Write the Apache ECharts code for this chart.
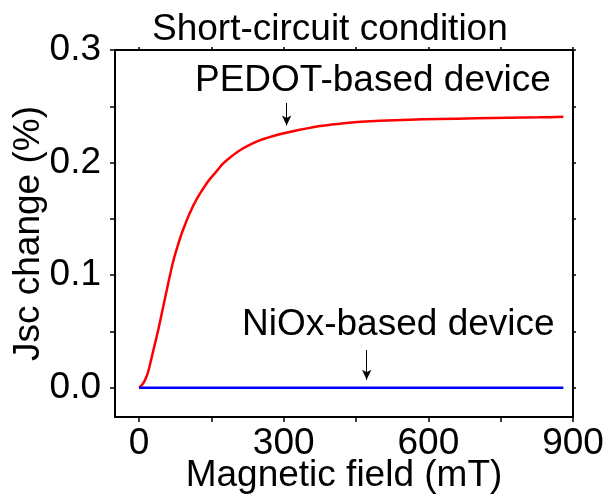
<!DOCTYPE html>
<html>
<head>
<meta charset="utf-8">
<script src="https://cdn.jsdelivr.net/npm/echarts@6/dist/echarts.min.js"></script>
<style>
    html, body { margin: 0; padding: 0; background: #fff; }
    #main { width: 608px; height: 496px; }
</style>
</head>
<body>
<div id="main"></div>
<script>
// magnetic field (mT) and Jsc change (%)
var fieldPedot = [0, 5, 10, 15, 20, 25, 30, 40, 50, 60, 70, 80, 90, 105, 120, 140, 160, 175, 190, 210, 240, 280, 310, 375, 420, 460, 500, 560, 620, 700, 830, 880];
var jscPedot = [0, 0.002, 0.005, 0.0095, 0.016, 0.025, 0.034, 0.052, 0.072, 0.092, 0.111, 0.126, 0.139, 0.155, 0.168, 0.1815, 0.192, 0.1995, 0.205, 0.2112, 0.218, 0.2238, 0.227, 0.2325, 0.2347, 0.2362, 0.2372, 0.2381, 0.2387, 0.2393, 0.2402, 0.2406];
var fieldNiox = [0, 200, 400, 600, 880];
var jscNiox = [0, 0, 0, 0, 0];

var xLabels = [0, 300, 600, 900];
var xTicks = [0, 150, 300, 450, 600, 750, 900];
var yLabels = [0, 0.1, 0.2, 0.3];
var yTicks = [0, 0.05, 0.1, 0.15, 0.2, 0.25, 0.3];

function pairs(xs, ys) {
    var out = [];
    for (var i = 0; i < xs.length; i++) out.push([xs[i], ys[i]]);
    return out;
}

var font = "'Liberation Sans', Arial, sans-serif";

var chart = echarts.init(document.getElementById('main'));

var axisLine = { show: true, onZero: false, lineStyle: { color: '#000', width: 2 } };

var option = {
    animation: false,
    title: {
        text: 'Short-circuit condition',
        left: 147,
        top: 6,
        textStyle: { fontFamily: font, fontSize: 37, fontWeight: 'normal', color: '#000' }
    },
    grid: { left: 115, right: 35, top: 50, bottom: 79, containLabel: false, outerBoundsMode: 'none' },
    xAxis: [
        {
            type: 'value',
            position: 'bottom',
            min: -50,
            max: 900,
            name: 'Magnetic field (mT)',
            nameLocation: 'middle',
            nameGap: 40,
            nameMoveOverlap: false,
            nameTextStyle: { fontFamily: font, fontSize: 37, color: '#000', verticalAlign: 'top' },
            axisLine: axisLine,
            axisTick: { show: true, inside: false, length: 5, customValues: xTicks, lineStyle: { color: '#000', width: 1.5 } },
            axisLabel: { customValues: xLabels, fontFamily: font, fontSize: 37, color: '#000', margin: 8 },
            splitLine: { show: false }
        },
        {
            type: 'value',
            position: 'top',
            min: -50,
            max: 900,
            axisLine: axisLine,
            axisTick: { show: true, inside: false, length: 3, customValues: xTicks, lineStyle: { color: '#000', width: 1.5 } },
            axisLabel: { show: false },
            splitLine: { show: false }
        }
    ],
    yAxis: [
        {
            type: 'value',
            position: 'left',
            min: -0.026,
            max: 0.3,
            name: 'Jsc change (%)',
            nameLocation: 'middle',
            nameGap: 68,
            nameMoveOverlap: false,
            nameTextStyle: { fontFamily: font, fontSize: 37, color: '#000' },
            axisLine: axisLine,
            axisTick: { show: true, inside: false, length: 5, customValues: yTicks, lineStyle: { color: '#000', width: 1.5 } },
            axisLabel: {
                customValues: yLabels,
                fontFamily: font, fontSize: 37, color: '#000', margin: 14,
                formatter: function (v) { return v.toFixed(1); }
            },
            splitLine: { show: false }
        },
        {
            type: 'value',
            position: 'right',
            min: -0.026,
            max: 0.3,
            axisLine: axisLine,
            axisTick: { show: true, inside: false, length: 3, customValues: yTicks, lineStyle: { color: '#000', width: 1.5 } },
            axisLabel: { show: false },
            splitLine: { show: false }
        }
    ],
    graphic: [
        {
            type: 'text', left: 195, top: 62,
            style: { text: 'PEDOT-based device', font: '37px ' + font, fill: '#000' }
        },
        {
            type: 'text', left: 242, top: 306,
            style: { text: 'NiOx-based device', font: '37px ' + font, fill: '#000' }
        }
    ],
    series: [
        {
            name: 'PEDOT',
            type: 'line',
            data: pairs(fieldPedot, jscPedot),
            showSymbol: false,
            smooth: 0.3,
            lineStyle: { color: '#ff0000', width: 2.5 },
            markLine: {
                silent: true,
                symbol: ['none', 'arrow'],
                symbolSize: [7, 10],
                label: { show: false },
                lineStyle: { color: '#000', width: 1, type: 'solid' },
                data: [[{ coord: [306, 0.253] }, { coord: [306, 0.233] }]]
            }
        },
        {
            name: 'NiOx',
            type: 'line',
            data: pairs(fieldNiox, jscNiox),
            showSymbol: false,
            lineStyle: { color: '#0000ff', width: 2.5 },
            markLine: {
                silent: true,
                symbol: ['none', 'arrow'],
                symbolSize: [7, 10],
                label: { show: false },
                lineStyle: { color: '#000', width: 1, type: 'solid' },
                data: [[{ coord: [472, 0.0335] }, { coord: [472, 0.007] }]]
            }
        }
    ]
};

option && chart.setOption(option);
</script>
</body>
</html>
